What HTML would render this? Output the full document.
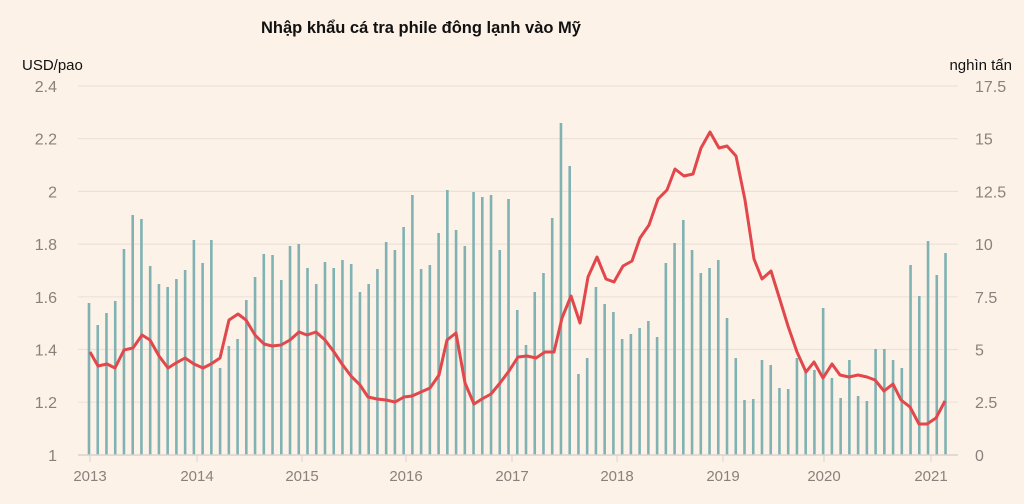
<!DOCTYPE html>
<html><head><meta charset="utf-8"><style>
html,body{margin:0;padding:0;background:#fdf2e7;}
svg{display:block}
text{font-family:"Liberation Sans",sans-serif;}
</style></head><body>
<svg id="s" width="1024" height="504" xmlns="http://www.w3.org/2000/svg">
<rect width="1024" height="504" fill="#fdf2e7"/>
<text x="421" y="33" text-anchor="middle" font-size="16.5" font-weight="bold" fill="#111">Nhập khẩu cá tra phile đông lạnh vào Mỹ</text>
<text x="22" y="70" font-size="15" fill="#111">USD/pao</text>
<text x="1012" y="70" font-size="15" fill="#111" text-anchor="end">nghìn tấn</text>
<g id="g"></g>
</svg>
<script>
var s=document.getElementById('g'),h='';
var L=['2.4','2.2','2','1.8','1.6','1.4','1.2','1'],R=['17.5','15','12.5','10','7.5','5','2.5','0'];
for(var i=0;i<8;i++){var y=86+i*52.7;
 if(i<7)h+='<line x1="78" x2="958" y1="'+y+'" y2="'+y+'" stroke="#ebe1da" stroke-width="1.2"/>';
 h+='<text x="57" y="'+(y+6)+'" font-size="16" fill="#8a817c" text-anchor="end">'+L[i]+'</text>';
 h+='<text x="975" y="'+(y+6)+'" font-size="16" fill="#8a817c">'+R[i]+'</text>';}
var yrs=[[90,2013],[197,2014],[302,2015],[406,2016],[512,2017],[617,2018],[723,2019],[824,2020],[931,2021]];
yrs.forEach(function(a){h+='<line x1="'+a[0]+'" x2="'+a[0]+'" y1="455" y2="462" stroke="#d8d2cf"/><text x="'+a[0]+'" y="481" font-size="15" fill="#8a817c" text-anchor="middle">'+a[1]+'</text>';});
var B=[303,325,313,301,249,215,219,266,284,287,279,270,240,263,240,368,346,339,300,277,254,255,280,246,244,268,284,262,268,260,264,292,284,269,242,250,227,195,269,265,233,190,230,246,192,197,195,250,199,310,345,292,273,218,123,166,374,358,287,304,312,339,334,328,321,337,263,243,220,250,273,268,260,318,358,400,399,360,365,388,389,358,370,370,308,378,398,360,396,401,349,349,360,368,265,296,241,275,253];
B.forEach(function(t,i){var x=89+i*8.74;h+='<rect x="'+(x-1.3)+'" y="'+t+'" width="2.6" height="'+(455-t)+'" fill="#80b2b3"/>';});
h+='<line x1="78" x2="958" y1="455" y2="455" stroke="#d8d2cf" stroke-width="1.5"/>';
var P="90,352 98,366 107,364 115,368 124,350 133,348 142,335 150,340 159,356 168,368 176,363 185,358 194,364 203,368 211,364 220,358 229,320 238,314 246,320 255,335 264,344 272,346 281,345 290,340 299,332 307,335 316,332 325,340 334,352 342,364 351,376 360,385 368,397 377,399 386,400 395,402 404,397 412,396 421,392 430,388 439,375 447,340 456,333 465,383 474,404 482,399 491,394 500,383 509,371 518,357 527,356 536,358 545,352 554,352 562,318 571,296 580,323 588,277 597,257 606,279 614,282 623,266 632,261 640,238 649,225 658,199 667,190 675,169 684,176 693,174 701,148 710,132 719,148 727,146 736,156 745,200 754,259 762,279 771,271 780,300 788,326 797,352 806,372 814,362 823,378 832,364 840,375 849,377 858,375 867,377 875,380 884,391 893,384 901,400 910,407 919,424 927,424 936,418 945,401";
h+='<polyline points="'+P+'" fill="none" stroke="#e2474b" stroke-width="3" stroke-linejoin="round"/>';
s.innerHTML=h;
</script>
</body></html>
